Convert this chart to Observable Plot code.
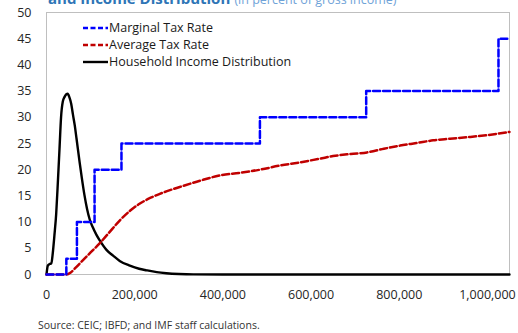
<!DOCTYPE html>
<html>
<head>
<meta charset="utf-8">
<script src="https://cdn.jsdelivr.net/npm/d3@7"></script>
<script src="https://cdn.jsdelivr.net/npm/@observablehq/plot@0.6"></script>
<style>
  html, body { margin: 0; padding: 0; background: #fff; }
  #wrap { position: relative; width: 518px; height: 333px; overflow: hidden; font-family: "Open Sans", sans-serif; }
  #title { position: absolute; left: 48px; top: -13px; white-space: nowrap; color: #2E75B6; }
  #title b { font-size: 15px; font-weight: 700; }
  #title span { font-size: 12.5px; color: #6FA3D8; }
  #chart { position: absolute; left: 0; top: 0; }
  #legend { position: absolute; left: 83px; top: 19px; font-size: 12.5px; color: #1a1a1a; }
  #legend div { display: flex; align-items: center; height: 17px; }
  #legend svg { margin-right: 1px; }
  #caption { position: absolute; left: 38px; top: 318px; font-size: 10.5px; color: #333; white-space: nowrap; }
</style>
</head>
<body>
<div id="wrap">
  <div id="title"><b>and Income Distribution</b> <span>(in percent of gross income)</span></div>
  <div id="chart"></div>
  <div id="legend"></div>
  <div id="caption">Source: CEIC; IBFD; and IMF staff calculations.</div>
</div>
<script>
// Marginal tax rate (step function): income thresholds and rates
const mtrIncome = [0, 45000, 69000, 109000, 170000, 484000, 725000, 1025000, 1045000];
const mtrRate   = [0, 3, 10, 20, 25, 30, 35, 45, 45];

// Average tax rate
const atrIncome = [0, 45000, 55000, 65000, 80000, 100000, 120000, 140000, 166000, 190000, 211000, 235000, 257000, 280000, 302000, 348000, 393000, 439000, 484000, 530000, 575000, 620000, 650000, 690000, 727000, 765000, 802000, 840000, 877000, 915000, 954000, 1000000, 1050000];
const atrRate   = [0, 0, 0.4, 1.2, 2.5, 4.2, 5.9, 7.8, 10.3, 12.2, 13.5, 14.6, 15.4, 16.1, 16.7, 17.9, 18.9, 19.4, 20.0, 20.8, 21.4, 22.1, 22.6, 23.0, 23.3, 24.0, 24.6, 25.1, 25.6, 25.9, 26.2, 26.6, 27.2];

// Household income distribution
const distIncome = [0, 3000, 7000, 11000, 14000, 18000, 22000, 26000, 29500, 33000, 37000, 41000, 45000, 48000, 52000, 56000, 60000, 64000, 68000, 75000, 80000, 86000, 92000, 98000, 105000, 113000, 120000, 136000, 151000, 166000, 189000, 210000, 227000, 250000, 272000, 300000, 333000, 400000, 1050000];
const distValue  = [0, 1.7, 2.0, 2.1, 3.9, 7.5, 11.6, 18, 24, 30, 33, 33.9, 34.4, 34.5, 33.8, 32.6, 30.5, 28.5, 26, 21.5, 18.5, 15.2, 12.5, 10.5, 9, 7.6, 6.6, 4.7, 3.6, 2.6, 1.7, 1.1, 0.8, 0.45, 0.25, 0.1, 0.02, 0, 0];

const xTicks = [0, 200000, 400000, 600000, 800000, 1000000];
const yTicks = [0, 5, 10, 15, 20, 25, 30, 35, 40, 45, 50];

const series = [
  {name: "Marginal Tax Rate", color: "#0000FF", dash: "7,3", width: 2.5},
  {name: "Average Tax Rate", color: "#C00000", dash: "7,3", width: 2.5},
  {name: "Household Income Distribution", color: "#000000", dash: null, width: 2.4}
];

const mtr = mtrIncome.map((x, i) => ({x, y: mtrRate[i]}));
const atr = atrIncome.map((x, i) => ({x, y: atrRate[i]}));
const dist = distIncome.map((x, i) => ({x, y: distValue[i]}));

const chart = Plot.plot({
  width: 518,
  height: 310,
  marginLeft: 46,
  marginRight: 9,
  marginTop: 12,
  marginBottom: 36,
  style: {fontFamily: "Open Sans, sans-serif", fontSize: "12.5px", color: "#262626", background: "transparent"},
  x: {domain: [0, 1050000], ticks: xTicks, tickFormat: d3.format(","), tickSize: 0, tickPadding: 16, label: null},
  y: {domain: [0, 50], ticks: yTicks, tickSize: 0, tickPadding: 15, label: null},
  marks: [
    Plot.frame({stroke: "#BFBFBF"}),
    Plot.line(dist, {x: "x", y: "y", stroke: series[2].color, strokeWidth: series[2].width, curve: "monotone-x"}),
    Plot.line(atr, {x: "x", y: "y", stroke: series[1].color, strokeWidth: series[1].width, strokeDasharray: series[1].dash, curve: "monotone-x"}),
    Plot.line(mtr, {x: "x", y: "y", stroke: series[0].color, strokeWidth: series[0].width, strokeDasharray: series[0].dash, curve: "step-after"})
  ]
});
document.getElementById("chart").appendChild(chart);

const legend = document.getElementById("legend");
for (const s of series) {
  const row = document.createElement("div");
  row.innerHTML = `<svg width="25" height="6"><line x1="0" y1="3" x2="25" y2="3" stroke="${s.color}" stroke-width="${s.width}" ${s.dash ? `stroke-dasharray="5,2.5"` : ""}/></svg><span>${s.name}</span>`;
  legend.appendChild(row);
}
</script>
</body>
</html>
